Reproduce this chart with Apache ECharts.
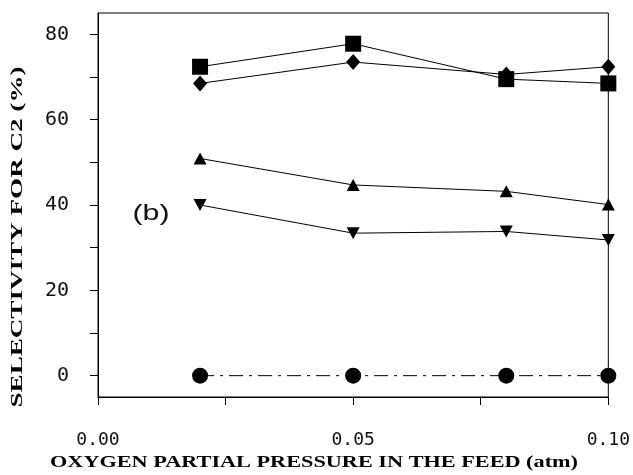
<!DOCTYPE html>
<html>
<head>
<meta charset="utf-8">
<script src="https://cdn.jsdelivr.net/npm/echarts@6/dist/echarts.min.js"></script>
<style>
html,body{margin:0;padding:0;background:#fff;}
#chart{width:633px;height:475px;}
</style>
</head>
<body>
<div id="chart"></div>
<script>
// ---- data ----
const xValues = [0.02, 0.05, 0.08, 0.10];
const squareSeries = [72.4, 77.8, 69.5, 68.5];
const diamondSeries = [68.5, 73.5, 70.6, 72.4];
const triangleUpSeries = [50.9, 44.7, 43.2, 40.1];
const triangleDownSeries = [40.0, 33.4, 33.8, 31.8];
const circleSeries = [0, 0, 0, 0];
const xTicks = [0, 0.025, 0.05, 0.075, 0.10];
const xTickLabels = [0, 0.05, 0.10];
const yTicks = [0, 10, 20, 30, 40, 50, 60, 70, 80];
const yTickLabels = [0, 20, 40, 60, 80];
const xTitle = 'OXYGEN PARTIAL PRESSURE IN THE FEED (atm)';
const yTitle = 'SELECTIVITY FOR C2 (%)';
const panelLabel = '(b)';

function pairs(vals) { return xValues.map((x, i) => [x, vals[i]]); }

const measureCtx = document.createElement('canvas').getContext('2d');
function fitScale(text, font, target) {
  measureCtx.font = font;
  const w = measureCtx.measureText(text).width;
  return w > 0 ? target / w : 1;
}

const titleFont = 'bold 16px "Liberation Serif"';
const panelFont = '22px "Liberation Sans"';

const chart = echarts.init(document.getElementById('chart'), null, {renderer: 'canvas'});

function lineSeries(name, vals, symbol, size, extra) {
  return Object.assign({
    name: name,
    type: 'line',
    data: pairs(vals),
    symbol: symbol,
    symbolSize: size,
    showSymbol: true,
    itemStyle: {color: '#000', borderWidth: 0},
    lineStyle: {color: '#000', width: 1},
    emphasis: {disabled: true},
    animation: false,
    z: 3
  }, extra || {});
}

chart.setOption({
  animation: false,
  backgroundColor: '#fff',
  grid: {left: 98, right: 23, top: 13, bottom: 78, show: true, borderColor: '#000', borderWidth: 1, backgroundColor: 'transparent'},
  xAxis: {
    type: 'value', min: 0, max: 0.10,
    axisLine: {show: true, onZero: false, lineStyle: {color: '#000', width: 1}},
    axisTick: {show: true, inside: false, length: 8, customValues: xTicks, lineStyle: {color: '#000', width: 1}},
    axisLabel: {customValues: xTickLabels, formatter: v => Number(v).toFixed(2), margin: 34,
      fontFamily: '"DejaVu Sans Mono"', fontSize: 18, color: '#111'},
    splitLine: {show: false}
  },
  yAxis: {
    type: 'value', min: -5, max: 85,
    axisLine: {show: true, onZero: false, lineStyle: {color: '#000', width: 1}},
    axisTick: {show: true, inside: false, length: 8, customValues: yTicks, lineStyle: {color: '#000', width: 1}},
    axisLabel: {customValues: yTickLabels, margin: 29,
      fontFamily: '"DejaVu Sans Mono"', fontSize: 20, color: '#111'},
    splitLine: {show: false}
  },
  series: [
    lineSeries('circle', circleSeries, 'circle', 16, {lineStyle: {color: '#000', width: 1, type: [14, 6, 3, 6]}}),
    lineSeries('down', triangleDownSeries, 'triangle', [13, 12], {symbolRotate: 180}),
    lineSeries('up', triangleUpSeries, 'triangle', [13, 12]),
    lineSeries('diamond', diamondSeries, 'diamond', [14, 16]),
    lineSeries('square', squareSeries, 'rect', 16)
  ],
  graphic: [
    {type: 'text', x: 151, y: 214, scaleX: fitScale(panelLabel, panelFont, 37),
      style: {text: panelLabel, font: panelFont, fill: '#111', textAlign: 'center', textVerticalAlign: 'middle'}},
    {type: 'text', x: 314, y: 463, scaleX: fitScale(xTitle, titleFont, 528),
      style: {text: xTitle, font: titleFont, fill: '#000', textAlign: 'center', textVerticalAlign: 'middle'}},
    {type: 'text', x: 18, y: 237, rotation: Math.PI / 2, scaleX: fitScale(yTitle, titleFont, 341),
      style: {text: yTitle, font: titleFont, fill: '#000', textAlign: 'center', textVerticalAlign: 'middle'}}
  ]
});
</script>
</body>
</html>
